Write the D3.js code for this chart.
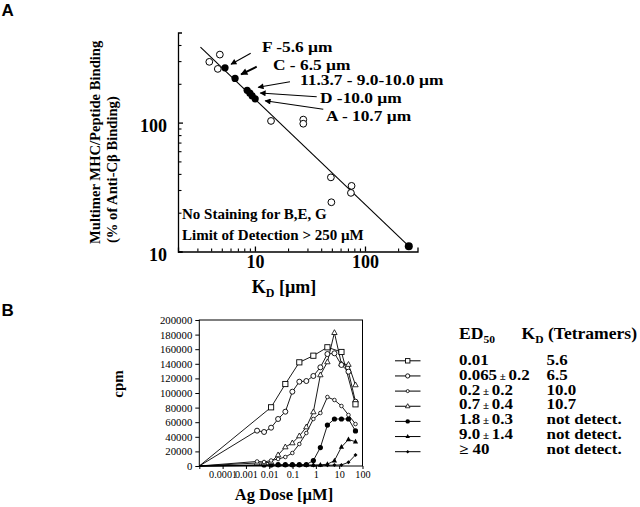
<!DOCTYPE html>
<html><head><meta charset="utf-8">
<script src="https://cdn.jsdelivr.net/npm/d3@7"></script>
<style>
body{margin:0;background:#fff}
svg{display:block}
text{font-family:"Liberation Serif","Times New Roman",serif;fill:#000}
</style>
</head><body>
<svg id="c" width="640" height="507"></svg>
<script>
// ---------- Panel A data ----------
const kdOpen   = [4.8, 3.85, 4.6, 14, 27.5, 27.5, 49, 75.5, 74.5, 49.5];
const bindOpen = [337, 296, 261, 103, 105.5, 98, 37.6, 32.3, 28.5, 24.1];
const kdFilled   = [5.35, 6.6, 8.5, 9.0, 9.45, 10.05, 250];
const bindFilled = [266, 220, 178, 169, 161, 153, 11];
const fitKd   = [3.2, 250];
const fitBind = [385, 11];
const aXTicks = [10, 100];
const aYTicks = [10, 100];
const annotLabels = ["F -5.6 \u00b5m", "C - 6.5 \u00b5m", "11.3.7 - 9.0-10.0 \u00b5m", "D -10.0 \u00b5m", "A - 10.7 \u00b5m"];
const annotTargetIdx = [0, 1, 2, 4, 5];
const noteLines = ["No Staining for B,E, G", "Limit of Detection > 250 \u00b5M"];

// ---------- Panel B data ----------
const doses = [0.003, 0.006, 0.012, 0.024, 0.049, 0.098, 0.195, 0.39, 0.78, 1.56, 3.125, 6.25, 12.5, 25, 50];
const sqDoses = [0.012, 0.049, 0.195, 0.78, 3.125, 12.5, 50];
const sqCpm   = [80400, 112300, 142000, 151100, 162600, 156200, 84500];
const bigCircCpm = [48400, 46600, 52500, 64400, 74400, 101800, 115500, 116400, 123300, 135200, 153400, 154400, 138400, 129200, 88100];
const smallCircCpm = [6200, 5500, 7500, 9600, 12300, 17800, 30100, 45200, 64400, 72600, 94500, 90400, 82200, 69900, 57500];
const triCpm = [4100, 4100, 5500, 15100, 26000, 31500, 41100, 53400, 74000, 124700, 142500, 182600, 139700, 139000, 111000];
const fillCircDoses = doses.slice(1);
const fillCircCpm = [1500, 1500, 1800, 1800, 1800, 1800, 2000, 7500, 25300, 56000, 64400, 64400, 64400, 48000];
const fillTriDoses = doses.slice(2);
const fillTriCpm = [1200, 1200, 1200, 1200, 1300, 1300, 1400, 1500, 2500, 7300, 26000, 36300, 33300];
const fillDiaDoses = doses.slice(2);
const fillDiaCpm = [800, 800, 800, 800, 800, 800, 800, 900, 1000, 1200, 1500, 5000, 15100];
const zeroDose = 0.00001;
const bYTicks = d3.range(0, 200001, 20000);
const bXTicks = [0.00001, 0.0001, 0.001, 0.01, 0.1, 1, 10, 100];
const bXLabels = ["", "0.0001", "0.001", "0.01", "0.1", "1", "10", "100"];
const ed50Labels = ["0.01", "0.065", "0.2", "0.7", "1.8", "9.0", "40"];
const ed50Err = ["", "0.2", "0.2", "0.4", "0.3", "1.4", ""];
const kdLabels = ["5.6", "6.5", "10.0", "10.7", "not detect.", "not detect.", "not detect."];

const svg = d3.select("#c");
const bold = "bold";

// ====================== Panel A ======================
const xA = d3.scaleLog().domain([2, 300]).range([178, 417.5]);
const yA = d3.scaleLog().domain([10, 500]).range([251.5, 32.5]);
const gA = svg.append("g");

const minorX = [3,4,5,6,7,8,9,20,30,40,50,60,70,80,90,200];
const minorY = [20,30,40,50,60,70,80,90,200,300,400];
gA.append("g").attr("transform","translate(0,251.5)")
  .call(d3.axisBottom(xA).tickValues(minorX).tickSize(-3).tickSizeOuter(0).tickFormat(""))
  .call(g=>g.select(".domain").remove()).selectAll("line").attr("stroke-width",1.1);
gA.append("g").attr("transform","translate(178,0)")
  .call(d3.axisLeft(yA).tickValues(minorY).tickSize(-3.5).tickSizeOuter(0).tickFormat(""))
  .call(g=>g.select(".domain").remove()).selectAll("line").attr("stroke-width",1.1);

const axXA = gA.append("g").attr("transform","translate(0,251.5)")
  .call(d3.axisBottom(xA).tickValues(aXTicks).tickSize(-5).tickSizeOuter(-4).tickPadding(4).tickFormat(d3.format("d")));
axXA.selectAll("text").attr("font-size",18).attr("font-weight",bold);
axXA.selectAll("path,line").attr("stroke-width",1.3);

const axYA = gA.append("g").attr("transform","translate(178,0)")
  .call(d3.axisLeft(yA).tickValues(aYTicks).tickSize(-5).tickSizeOuter(-4).tickPadding(11).tickFormat(d3.format("d")));
axYA.selectAll("text").attr("font-size",18).attr("font-weight",bold).attr("dy","0.5em");
axYA.selectAll("path,line").attr("stroke-width",1.3);

gA.append("path")
  .datum(fitKd.map((k,i)=>[k,fitBind[i]]))
  .attr("d", d3.line().x(d=>xA(d[0])).y(d=>yA(d[1])))
  .attr("fill","none").attr("stroke","#000").attr("stroke-width",1.1);

gA.selectAll(".open").data(kdOpen.map((k,i)=>[k,bindOpen[i]])).join("circle")
  .attr("cx",d=>xA(d[0])).attr("cy",d=>yA(d[1])).attr("r",3.4)
  .attr("fill","#fff").attr("stroke","#000").attr("stroke-width",1);
gA.selectAll(".filled").data(kdFilled.map((k,i)=>[k,bindFilled[i]])).join("circle")
  .attr("cx",d=>xA(d[0])).attr("cy",d=>yA(d[1])).attr("r",(d,i)=>i===kdFilled.length-1?4:3.6)
  .attr("fill","#000");

const defs = svg.append("defs");
defs.append("marker").attr("id","ah").attr("viewBox","0 0 10 10").attr("refX",9).attr("refY",5)
  .attr("markerWidth",7).attr("markerHeight",6).attr("markerUnits","userSpaceOnUse").attr("orient","auto")
  .append("path").attr("d","M0,0L10,5L0,10z").attr("fill","#000");
defs.append("marker").attr("id","ah2").attr("viewBox","0 0 10 10").attr("refX",9).attr("refY",5)
  .attr("markerWidth",8).attr("markerHeight",7).attr("markerUnits","userSpaceOnUse").attr("orient","auto")
  .append("path").attr("d","M0,0L10,5L0,10z").attr("fill","#000");

const annotText = [[262,51.5],[273,69.5],[300,85],[320,103],[326,121]];
const annotFrom = [[250.7,53.3],[256.7,66.7],[290,81.7],[316.7,96.7],[323.3,109.3]];
const annotOff  = [[6,-3.5],[6,-4],[11,-3],[8,-3],[10,2]];
annotLabels.forEach((lab,i)=>{
  const k = kdFilled[annotTargetIdx[i]], b = bindFilled[annotTargetIdx[i]];
  const tx = xA(k)+annotOff[i][0], ty = yA(b)+annotOff[i][1];
  gA.append("line").attr("x1",annotFrom[i][0]).attr("y1",annotFrom[i][1]).attr("x2",tx).attr("y2",ty)
    .attr("stroke","#000").attr("stroke-width",i===1?2:1.1).attr("marker-end",i===1?"url(#ah2)":"url(#ah)");
  gA.append("text").attr("transform",`translate(${annotText[i][0]},${annotText[i][1]}) scale(1.12,1)`)
    .attr("font-size",15.5).attr("font-weight",bold).text(lab);
});

noteLines.forEach((t,i)=>{
  gA.append("text").attr("x",182).attr("y",218.5+i*21.5).attr("font-size",15).attr("font-weight",bold).text(t);
});

const tA = gA.append("text").attr("x",284).attr("y",293).attr("text-anchor","middle")
  .attr("font-size",18).attr("font-weight",bold);
tA.append("tspan").text("K");
tA.append("tspan").attr("font-size",12).attr("dy",4).text("D");
tA.append("tspan").attr("dy",-4).text(" [\u00b5m]");

gA.append("text").attr("transform","translate(100,244) rotate(-90)")
  .attr("font-size",14.6).attr("font-weight",bold).text("Multimer MHC/Peptide Binding");
gA.append("text").attr("transform","translate(117,243) rotate(-90)")
  .attr("font-size",14.6).attr("font-weight",bold).text("(% of Anti-C\u03b2 Binding)");

svg.append("text").attr("x",1.5).attr("y",15.5).attr("font-size",17).attr("font-weight",bold)
  .style("font-family",'"Liberation Sans",Arial,sans-serif').text("A");
svg.append("text").attr("x",1.5).attr("y",315.5).attr("font-size",17).attr("font-weight",bold)
  .style("font-family",'"Liberation Sans",Arial,sans-serif').text("B");

// ====================== Panel B ======================
const xB = d3.scaleLog().domain([1e-5, 100]).range([199.3, 362.5]);
const yB = d3.scaleLinear().domain([0, 200000]).range([466, 320]);
const gB = svg.append("g");

gB.append("rect").attr("x",xB.range()[0]).attr("y",yB(200000))
  .attr("width",xB.range()[1]-xB.range()[0]).attr("height",yB(0)-yB(200000))
  .attr("fill","none").attr("stroke","#000").attr("stroke-width",1);

const axYB = gB.append("g").attr("transform",`translate(${xB.range()[0]},0)`)
  .call(d3.axisLeft(yB).tickValues(bYTicks).tickSize(4).tickSizeOuter(0).tickPadding(3).tickFormat(d3.format("d")));
axYB.select(".domain").remove();
axYB.selectAll("text").attr("font-size",10.8);

const axXB = gB.append("g").attr("transform",`translate(0,${yB(0)})`)
  .call(d3.axisBottom(xB).tickValues(bXTicks).tickSize(3).tickSizeOuter(0).tickPadding(1.5)
        .tickFormat((d,i)=>bXLabels[i]));
axXB.select(".domain").remove();
axXB.selectAll("text").attr("font-size",10.2);

function series(ds, vs){ return [[zeroDose,0]].concat(ds.map((d,i)=>[d,vs[i]])); }
const allSeries = [
  {pts:series(sqDoses,sqCpm), m:"square"},
  {pts:series(doses,bigCircCpm), m:"bigcirc"},
  {pts:series(doses,smallCircCpm), m:"smallcirc"},
  {pts:series(doses,triCpm), m:"tri"},
  {pts:series(fillCircDoses,fillCircCpm), m:"fcirc"},
  {pts:series(fillTriDoses,fillTriCpm), m:"ftri"},
  {pts:series(fillDiaDoses,fillDiaCpm), m:"fdia"}
];
const lineB = d3.line().x(d=>xB(d[0])).y(d=>yB(d[1]));
allSeries.forEach(s=>{
  gB.append("path").datum(s.pts).attr("d",lineB).attr("fill","none").attr("stroke","#000").attr("stroke-width",0.9);
});

function marker(g, type, x, y, sc){
  sc = sc||1;
  if(type==="square"){
    const h=2.6*sc;
    g.append("rect").attr("x",x-h).attr("y",y-h).attr("width",2*h).attr("height",2*h)
      .attr("fill","#fff").attr("stroke","#000").attr("stroke-width",0.9);
  } else if(type==="bigcirc"){
    g.append("circle").attr("cx",x).attr("cy",y).attr("r",2.5*sc).attr("fill","#fff").attr("stroke","#000").attr("stroke-width",0.9);
  } else if(type==="smallcirc"){
    g.append("circle").attr("cx",x).attr("cy",y).attr("r",1.8*sc).attr("fill","#fff").attr("stroke","#000").attr("stroke-width",0.8);
  } else if(type==="tri"){
    const r=3*sc;
    g.append("path").attr("d",`M${x},${y-r}L${x+r*0.9},${y+r*0.6}L${x-r*0.9},${y+r*0.6}Z`)
      .attr("fill","#fff").attr("stroke","#000").attr("stroke-width",0.8);
  } else if(type==="fcirc"){
    g.append("circle").attr("cx",x).attr("cy",y).attr("r",2.6*sc).attr("fill","#000");
  } else if(type==="ftri"){
    const r=2.9*sc;
    g.append("path").attr("d",`M${x},${y-r}L${x+r*0.9},${y+r*0.6}L${x-r*0.9},${y+r*0.6}Z`).attr("fill","#000");
  } else if(type==="fdia"){
    const r=2*sc;
    g.append("path").attr("d",`M${x},${y-r}L${x+r},${y}L${x},${y+r}L${x-r},${y}Z`).attr("fill","#000");
  }
}
allSeries.slice().reverse().forEach(s=>{
  s.pts.slice(1).forEach(p=>marker(gB, s.m, xB(p[0]), yB(p[1])));
});

gB.append("text").attr("x",284).attr("y",500).attr("text-anchor","middle")
  .attr("font-size",16.5).attr("font-weight",bold).text("Ag Dose [\u00b5M]");
gB.append("text").attr("transform","translate(123,384) rotate(-90)").attr("text-anchor","middle")
  .attr("font-size",15).attr("font-weight",bold).text("cpm");

// legend
const lg = svg.append("g");
const h1 = lg.append("text").attr("transform","translate(459,338.5) scale(1.1,1)").attr("font-size",16).attr("font-weight",bold);
h1.append("tspan").text("ED");
h1.append("tspan").attr("font-size",10.5).attr("dy",4).text("50");
const h2 = lg.append("text").attr("transform","translate(521.5,338.5) scale(1.1,1)").attr("font-size",16).attr("font-weight",bold);
h2.append("tspan").text("K");
h2.append("tspan").attr("font-size",10.5).attr("dy",4).text("D");
h2.append("tspan").attr("dy",-4).text(" (Tetramers)");

allSeries.forEach((s,i)=>{
  const my = 360.8 + i*15.15;
  lg.append("line").attr("x1",395).attr("x2",420.5).attr("y1",my).attr("y2",my).attr("stroke","#000").attr("stroke-width",1);
  marker(lg, s.m, 407.7, my, 0.85);
  const ty = 365 + i*14.75;
  const t = lg.append("text").attr("transform",`translate(459,${ty}) scale(1.16,1)`).attr("font-size",14.6).attr("font-weight",bold);
  if(i===6){
    t.append("tspan").text("\u2265 ");
  }
  t.append("tspan").text(ed50Labels[i]);
  if(ed50Err[i]){
    t.append("tspan").attr("font-size",9.5).text(" \u00b1 ");
    t.append("tspan").text(ed50Err[i]);
  }
  lg.append("text").attr("transform",`translate(546.5,${ty}) scale(1.16,1)`).attr("font-size",14.6).attr("font-weight",bold).text(kdLabels[i]);
});
</script>
</body></html>
